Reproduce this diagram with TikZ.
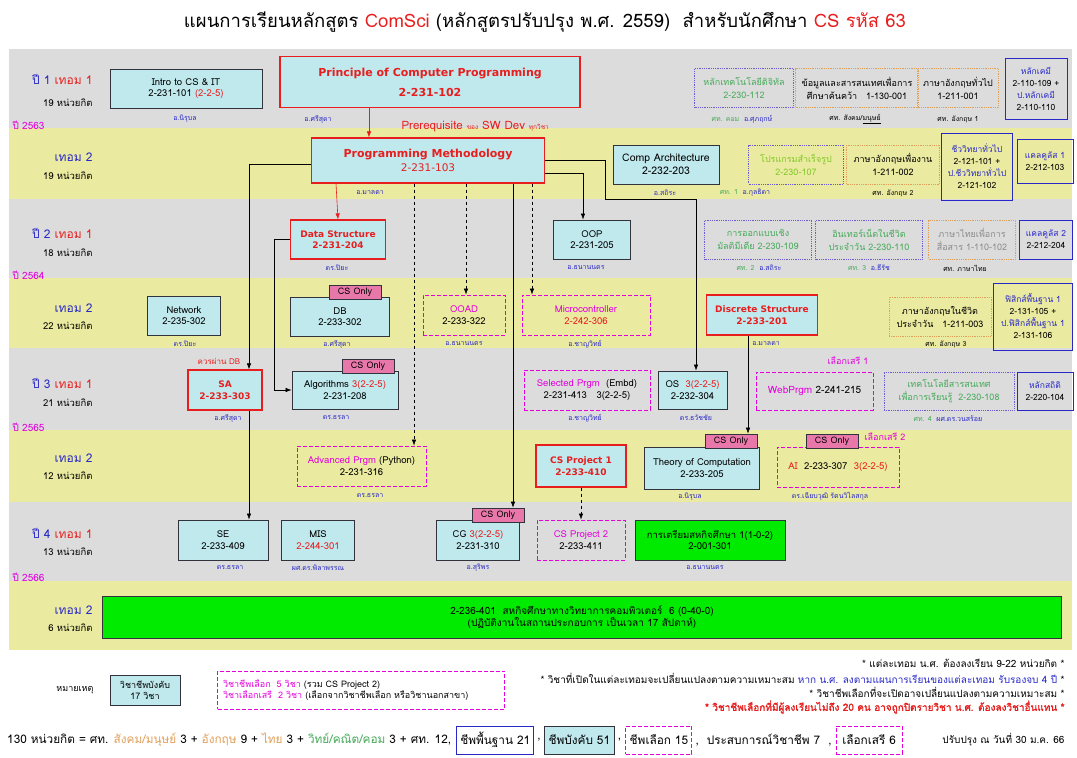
\documentclass[tikz,border=0pt]{standalone}
\usepackage{fontspec}
\setmainfont{Loma}[Script=Thai, AutoFakeBold=1.5]
\newfontfamily\hdfont{DejaVu Sans}
\usetikzlibrary{positioning,arrows.meta}
\definecolor{cpBand}{RGB}{220,220,220}
\definecolor{cpYellow}{RGB}{234,234,160}
\definecolor{cpCyan}{RGB}{192,233,238}
\definecolor{cpRed}{RGB}{232,30,30}
\definecolor{cpPink}{RGB}{228,0,220}
\definecolor{cpBlue}{RGB}{40,40,200}
\definecolor{cpPurple}{RGB}{110,90,210}
\definecolor{cpOrange}{RGB}{225,160,90}
\definecolor{cpTeal}{RGB}{70,170,90}
\definecolor{cpLime}{RGB}{130,200,40}
\definecolor{cpGreen}{RGB}{0,235,0}
\definecolor{cpTag}{RGB}{232,120,170}
\definecolor{cpDark}{RGB}{50,50,60}
\tikzset{
    base/.style={font=\fontsize{9.5}{11.5}\selectfont, align=center, inner sep=1pt},
    sz/.style 2 args={minimum width=#1, minimum height=#2},
    core/.style={base, draw=cpDark, fill=cpCyan, line width=0.9pt},
    prog/.style={base, draw=cpRed, fill=cpCyan, line width=1.2pt, text=cpRed,
                 font=\fontsize{9}{11.5}\selectfont\hdfont\bfseries},
    elect/.style={base, draw=cpPink, dash pattern=on 4pt off 2pt, line width=0.9pt},
    gened/.style={base, draw=cpPurple, densely dotted, line width=0.8pt, text=cpTeal,
                  font=\fontsize{9}{13}\selectfont},
    lang/.style={gened, draw=cpOrange, text=black},
    sci/.style={base, draw=cpBlue, line width=0.9pt, font=\fontsize{8.5}{12}\selectfont},
    tag/.style={base, draw=cpDark, fill=cpTag, line width=0.7pt, sz={52}{14},
                font=\fontsize{9}{10}\selectfont},
    coop/.style={base, draw=cpDark, fill=cpGreen, line width=0.9pt},
    who/.style={font=\fontsize{7}{8}\selectfont, text=cpBlue},
    term/.style={font=\fontsize{12}{14}\selectfont, anchor=east},
    credit/.style={font=\fontsize{9.5}{11}\selectfont, anchor=east},
    yearlbl/.style={font=\fontsize{10}{11}\selectfont, text=cpPink, anchor=west},
    flow/.style={-{Latex[length=6pt,width=4.5pt]}, line width=0.6pt},
    note/.style={font=\fontsize{10}{11}\selectfont, anchor=east},
    sumtxt/.style={base, font=\fontsize{11.8}{13}\selectfont}
}
\begin{document}
\begin{tikzpicture}[x=1pt,y=-1pt]
  \useasboundingbox (0,0) rectangle (1077,758);
  \fill[white] (0,0) rectangle (1077,758);

  % Term bands
  \foreach \ya/\yb/\col in {49/128/cpBand,128/199/cpYellow,199/278/cpBand,278/348/cpYellow,
                            348/430/cpBand,430/502/cpYellow,502/581/cpBand,581/650/cpYellow} {
    \fill[\col] (9,\ya) rectangle (1072,\yb);
  }
  \foreach \y/\yr in {125/2563,275/2564,427/2565,577/2566} {
    \node[yearlbl] at (9,\y) {ปี \yr};
  }

  % Term labels
  \foreach \ty/\cy/\lbl/\cr in {79/103/{\textcolor{cpBlue}{ปี 1} \textcolor{cpRed}{เทอม 1}}/19,
      157/176/{\textcolor{cpBlue}{เทอม 2}}/19,
      233/253/{\textcolor{cpBlue}{ปี 2} \textcolor{cpRed}{เทอม 1}}/18,
      308/326/{\textcolor{cpBlue}{เทอม 2}}/22,
      383/403/{\textcolor{cpBlue}{ปี 3} \textcolor{cpRed}{เทอม 1}}/21,
      458/476/{\textcolor{cpBlue}{เทอม 2}}/12,
      533/552/{\textcolor{cpBlue}{ปี 4} \textcolor{cpRed}{เทอม 1}}/13,
      610/628/{\textcolor{cpBlue}{เทอม 2}}/6} {
    \node[term] at (96,\ty) {\lbl};
    \node[credit] at (96,\cy) {\cr\ หน่วยกิต};
  }

  % Title
  \node[font=\fontsize{18.5}{22}\selectfont] (title) at (545,22)
    {แผนการเรียนหลักสูตร \textcolor{cpRed}{ComSci} (หลักสูตรปรับปรุง พ.ศ. 2559)\ \ สำหรับนักศึกษา \textcolor{cpRed}{CS รหัส 63}};

  % Year 1 term 1
  \node[core, sz={152}{39}] (intro) at (186,88.5) {Intro to CS \& IT\\2-231-101 \textcolor{cpRed}{(2-2-5)}};
  \node[prog, sz={300}{51}, font=\fontsize{11}{17}\selectfont\hdfont\bfseries] (pcp) at (430,82)
    {Principle of Computer Programming\\[3pt]2-231-102};
  \node[gened, sz={99}{39}] (dig) at (744,88) {หลักเทคโนโลยีดิจิทัล\\2-230-112};
  \node[lang, sz={123}{39}] (info) at (857,88) {ข้อมูลและสารสนเทศเพื่อการ\\ศึกษาค้นคว้า\quad 1-130-001};
  \node[lang, sz={81}{39}] (eng1) at (958,88) {ภาษาอังกฤษทั่วไป\\1-211-001};
  \node[sci, sz={62}{61}] (chem) at (1036,89)
    {\textcolor{cpBlue}{หลักเคมี}\\2-110-109 +\\\textcolor{cpBlue}{ป.หลักเคมี}\\2-110-110};
  \node[who] at (185,119) {อ.นิรุบล};
  \node[who] at (318,119) {อ.ศรีสุดา};
  \node[who] at (742,119) {\textcolor{cpTeal}{ศท. คอม}\ \ อ.ศุภฤกษ์};
  \node[who, text=black] at (855,119) {ศท. สังคม/\underline{มนุษย์}};
  \node[who, text=black] at (958,119) {ศท. อังกฤษ 1};
  \node[anchor=west, text=cpRed, font=\fontsize{11.5}{12}\selectfont] (pre) at (398,127)
    {Prerequisite {\fontsize{6.5}{7}\selectfont ของ} SW Dev {\fontsize{6.5}{7}\selectfont ทุกวิชา}};

  % Year 1 term 2
  \node[prog, sz={233}{45}, font=\fontsize{10.5}{13.5}\selectfont\hdfont] (pm) at (428,160.5)
    {{\fontsize{11}{13.5}\selectfont\bfseries Programming Methodology}\\2-231-103};
  \node[core, sz={106}{39}, font=\fontsize{10.5}{12.5}\selectfont] (arch) at (666,164.5) {Comp Architecture\\2-232-203};
  \node[gened, sz={95}{39}, text=cpLime] (pkg) at (796,164.5) {โปรแกรมสำเร็จรูป\\2-230-107};
  \node[lang, sz={93}{39}] (eng2) at (893,164.5) {ภาษาอังกฤษเพื่องาน\\1-211-002};
  \node[sci, sz={71}{67}] (bio) at (977,166.5)
    {\textcolor{cpBlue}{ชีววิทยาทั่วไป}\\2-121-101 +\\\textcolor{cpBlue}{ป.ชีววิทยาทั่วไป}\\2-121-102};
  \node[sci, sz={56}{44}] (calc1) at (1045,161) {\textcolor{cpBlue}{แคลคูลัส 1}\\2-212-103};
  \node[who] at (370,193) {อ.มาลดา};
  \node[who] at (665,193) {อ.สถิระ};
  \node[who] at (745,193) {\textcolor{cpTeal}{ศท. 1}\ \ อ.กุลธิดา};
  \node[who, text=black] at (893,193) {ศท. อังกฤษ 2};

  % Year 2 term 1
  \node[prog, sz={95}{39}] (ds) at (338,239.5) {Data Structure\\2-231-204};
  \node[core, sz={77}{39}] (oop) at (592,239.5) {OOP\\2-231-205};
  \node[gened, sz={107}{39}] (mm) at (758,239.5) {การออกแบบเชิง\\มัลติมีเดีย 2-230-109};
  \node[gened, sz={107}{39}] (inet) at (869,239.5) {อินเทอร์เน็ตในชีวิต\\ประจำวัน 2-230-110};
  \node[lang, sz={87}{39}, text=black!45] (thai) at (972,239.5) {ภาษาไทยเพื่อการ\\สื่อสาร 1-110-102};
  \node[sci, sz={53}{39}] (calc2) at (1046,239.5) {\textcolor{cpBlue}{แคลคูลัส 2}\\2-212-204};
  \node[who] at (337,268) {ดร.ปิยะ};
  \node[who] at (586,268) {อ.ธนานนตร};
  \node[who] at (759,268) {\textcolor{cpTeal}{ศท. 2}\ \ อ.สถิระ};
  \node[who] at (869,268) {\textcolor{cpTeal}{ศท. 3}\ \ อ.ธีรัช};
  \node[who, text=black] at (965,268) {ศท. ภาษาไทย};

  % Year 2 term 2
  \node[core, sz={73}{39}] (net) at (184,315.5) {Network\\2-235-302};
  \node[core, sz={99}{39}] (db) at (340,316.5) {DB\\2-233-302};
  \node[tag] (dbtag) at (355,292.5) {CS Only};
  \node[elect, sz={82}{40}] (ooad) at (464,315) {\textcolor{cpPink}{OOAD}\\2-233-322};
  \node[elect, sz={128}{40}] (micro) at (586,315) {\textcolor{cpPink}{Microcontroller}\\\textcolor{cpRed}{2-242-306}};
  \node[prog, sz={111}{40}] (dis) at (762,315) {Discrete Structure\\2-233-201};
  \node[lang, sz={102}{39}] (eng3) at (940,316.5) {ภาษาอังกฤษในชีวิต\\ประจำวัน\quad 1-211-003};
  \node[sci, sz={79}{67}] (phy) at (1033,316.5)
    {\textcolor{cpBlue}{ฟิสิกส์พื้นฐาน 1}\\2-131-105 +\\\textcolor{cpBlue}{ป.ฟิสิกส์พื้นฐาน 1}\\2-131-106};
  \node[who] at (185,344) {ดร.ปิยะ};
  \node[who] at (337,344) {อ.ศรีสุดา};
  \node[who] at (464,344) {อ.ธนานนตร};
  \node[who] at (585,344) {อ.ชาญวิทย์};
  \node[who] at (766,344) {อ.มาลดา};
  \node[who, text=black] at (946,344) {ศท. อังกฤษ 3};

  % Year 3 term 1
  \node[prog, sz={74}{40}] (sa) at (225,390) {SA\\2-233-303};
  \node[text=cpRed, font=\fontsize{8}{9}\selectfont] at (219,361) {ควรผ่าน DB};
  \node[core, sz={106}{38}] (algo) at (345,390) {Algorithms \textcolor{cpRed}{3(2-2-5)}\\2-231-208};
  \node[tag] (algotag) at (368,366) {CS Only};
  \node[elect, sz={126}{40}] (sel) at (587,390) {\textcolor{cpPink}{Selected Prgm}\ \ (Embd)\\2-231-413\quad 3(2-2-5)};
  \node[core, sz={69}{38}] (os) at (692.5,390) {OS\ \ \textcolor{cpRed}{3(2-2-5)}\\2-232-304};
  \node[elect, sz={117}{38}, font=\fontsize{10}{12}\selectfont] (web) at (814.5,391) {\textcolor{cpPink}{WebPrgm} 2-241-215};
  \node[text=cpPink, font=\fontsize{9}{10}\selectfont] at (848,361) {เลือกเสรี 1};
  \node[gened, sz={130}{38}] (itl) at (949,391) {เทคโนโลยีสารสนเทศ\\เพื่อการเรียนรู้\ \ 2-230-108};
  \node[sci, sz={56}{38}] (stat) at (1045,391) {\textcolor{cpBlue}{หลักสถิติ}\\2-220-104};
  \node[who] at (228,418) {อ.ศรีสุดา};
  \node[who] at (336,418) {ดร.ธรลา};
  \node[who] at (585,418) {อ.ชาญวิทย์};
  \node[who] at (696,418) {ดร.ธวัชชัย};
  \node[who] at (948,419) {\textcolor{cpTeal}{ศท. 4}\ \ ผศ.ดร.วนสร้อย};

  % Year 3 term 2
  \node[elect, sz={129}{40}] (adv) at (361.5,466) {\textcolor{cpPink}{Advanced Prgm} (Python)\\2-231-316};
  \node[prog, sz={90}{42}] (proj1) at (581,466) {CS Project 1\\2-233-410};
  \node[core, sz={115}{42}] (toc) at (702,468) {Theory of Computation\\2-233-205};
  \node[tag] (toctag) at (731,441) {CS Only};
  \node[elect, sz={122}{40}] (ai) at (838,467) {\textcolor{cpRed}{AI}\ \ 2-233-307\ \ \textcolor{cpRed}{3(2-2-5)}};
  \node[tag] (aitag) at (832,441) {CS Only};
  \node[text=cpPink, font=\fontsize{9}{10}\selectfont] at (885,437) {เลือกเสรี 2};
  \node[who] at (370,496) {ดร.ธรลา};
  \node[who] at (690,497) {อ.นิรุบล};
  \node[who] at (830,496) {ดร.เฉียบวุฒิ รัตนวิไลสกุล};

  % Year 4 term 1
  \node[core, sz={90}{40}] (se) at (223,540) {SE\\2-233-409};
  \node[core, sz={73}{40}] (mis) at (318,540) {MIS\\\textcolor{cpRed}{2-244-301}};
  \node[core, sz={83}{40}] (cg) at (478,540) {CG \textcolor{cpRed}{3(2-2-5)}\\2-231-310};
  \node[tag] (cgtag) at (498,515) {CS Only};
  \node[elect, sz={88}{40}] (proj2) at (581,540) {\textcolor{cpPink}{CS Project 2}\\2-233-411};
  \node[coop, sz={150}{40}] (prep) at (710,540) {การเตรียมสหกิจศึกษา 1(1-0-2)\\2-001-301};
  \node[who] at (230,568) {ดร.ธรลา};
  \node[who] at (318,568) {ผศ.ดร.พิลาพรรณ};
  \node[who] at (478,568) {อ.สุริพร};
  \node[who] at (705,568) {อ.ธนานนตร};

  % Year 4 term 2
  \node[coop, sz={959}{42}, font=\fontsize{10}{12}\selectfont] (coop) at (582,617)
    {2-236-401\ \ สหกิจศึกษาทางวิทยาการคอมพิวเตอร์\ \ 6 (0-40-0)\\(ปฏิบัติงานในสถานประกอบการ เป็นเวลา 17 สัปดาห์)};

  % Prerequisite flows
  \draw[flow, cpRed] ([xshift=-61]pcp.south) -- ([xshift=-59]pm.north);
  \draw[flow, cpRed] ([xshift=-92]pm.south) -- (ds.north);
  \draw[flow] ([yshift=-4]pm.west) -| ([xshift=24]sa.north);
  \draw[flow] ([xshift=24]sa.south) -- ([xshift=24]sa.south |- se.north);
  \draw[flow] (ds.west) -- ++(-16,0) |- (algo.west);
  \draw[flow, dashed] ([xshift=-14]pm.south) -- ([xshift=52.5]adv.north);
  \draw[flow, dashed] ([xshift=38]pm.south) -- ([xshift=2]ooad.north);
  \draw[flow] ([xshift=85]pm.south) -- ([xshift=15]cgtag.north);
  \draw[flow, dashed] ([xshift=104]pm.south) -- ([xshift=-54]micro.north);
  \draw[flow] ([yshift=-13]pm.east) -| ([xshift=-9]oop.north);
  \draw[flow] (pm.east) -- ++(60,0) -- ++(0,38.5) -| ([xshift=3.5]os.north);
  \draw[flow] ([xshift=-14]dis.south) -- ([xshift=-14]dis.south |- toctag.north);
  \draw[flow, dashed] (proj1.south) -- (proj2.north);

  % Legend
  \node[font=\fontsize{9}{10}\selectfont] (remark) at (75,690) {หมายเหตุ};
  \node[core, sz={70}{30}, font=\fontsize{9}{11}\selectfont] (lgcore) at (145,690) {วิชาชีพบังคับ\\17 วิชา};
  \node[elect, sz={287}{38}, text width=276, align=left, font=\fontsize{9}{11}\selectfont] (lgelect) at (361,690)
    {\textcolor{cpPink}{วิชาชีพเลือก\ \ 5 วิชา} (รวม CS Project 2)\\\textcolor{cpPink}{วิชาเลือกเสรี\ \ 2 วิชา} (เลือกจากวิชาชีพเลือก หรือวิชานอกสาขา)};
  \node[note] at (1068,663) {* แต่ละเทอม น.ศ. ต้องลงเรียน 9-22 หน่วยกิต *};
  \node[note] at (1068,678) {* วิชาที่เปิดในแต่ละเทอมจะเปลี่ยนแปลงตามความเหมาะสม \textcolor{cpBlue}{หาก น.ศ. ลงตามแผนการเรียนของแต่ละเทอม รับรองจบ 4 ปี} *};
  \node[note] at (1068,692) {* วิชาชีพเลือกที่จะเปิดอาจเปลี่ยนแปลงตามความเหมาะสม *};
  \node[note, text=cpRed, font=\fontsize{10}{11}\selectfont\bfseries] at (1068,707) {* วิชาชีพเลือกที่มีผู้ลงเรียนไม่ถึง 20 คน อาจถูกปิดรายวิชา น.ศ. ต้องลงวิชาอื่นแทน *};

  % Credit summary
  \node[sumtxt, anchor=west] (sum) at (6,740)
    {130 หน่วยกิต = ศท. \textcolor{cpOrange}{สังคม/มนุษย์} 3 + \textcolor{cpOrange}{อังกฤษ} 9 + \textcolor{cpOrange}{ไทย} 3 + \textcolor{cpTeal}{วิทย์/คณิต/คอม} 3 + ศท. 12,};
  \node[sci, sumtxt, draw=cpBlue, sz={77}{28}, right=4pt of sum] (basic) {ชีพพื้นฐาน 21};
  \node[sumtxt, right=2pt of basic] (c1) {,};
  \node[core, sumtxt, sz={70}{28}, right=2pt of c1] (must) {ชีพบังคับ 51};
  \node[sumtxt, right=2pt of must] (c2) {,};
  \node[elect, sumtxt, sz={66}{28}, right=3pt of c2] (elec) {ชีพเลือก 15};
  \node[sumtxt, right=2pt of elec] (c3) {,\ \ ประสบการณ์วิชาชีพ 7\ \ ,};
  \node[elect, sumtxt, sz={66}{28}, right=3pt of c3] (free) {เลือกเสรี 6};
  \node[anchor=east, font=\fontsize{10}{11}\selectfont] (upd) at (1068,740) {ปรับปรุง ณ วันที่ 30 ม.ค. 66};
\end{tikzpicture}
\end{document}
